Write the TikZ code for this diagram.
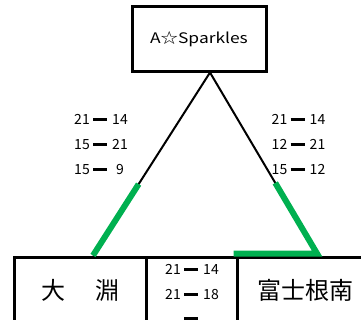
\documentclass[tikz,border=0pt]{standalone}
\usepackage{fontspec}
\setmainfont{Noto Sans CJK JP}
\newfontfamily\widefont[FakeStretch=1.2]{Noto Sans CJK JP}
\usetikzlibrary{calc, positioning}
\definecolor{wingreen}{RGB}{0,176,80}
\newcommand{\gamescore}[2]{\makebox[18pt][c]{#1}\hspace{2pt}\rule[3.6pt]{14pt}{3pt}\hspace{4pt}\makebox[18pt][c]{#2}\vphantom{0}}

\begin{document}
\begin{tikzpicture}[
    x=1pt, y=-1pt,
    font=\fontsize{14pt}{16pt}\selectfont,
    teambox/.style={rectangle, draw=black, line width=3pt, fill=white, inner sep=0pt},
    scorebox/.style={inner sep=0pt},
    leg/.style={line width=2pt, draw=black},
    winleg/.style={line width=6pt, draw=wingreen}
]
\useasboundingbox (0,0) rectangle (361,320);
\clip (0,0) rectangle (361,320);
\node[teambox, minimum width=134pt, minimum height=65pt, font=\widefont\fontsize{14.5pt}{18pt}\selectfont] (spk) at (199,39.5) {A☆Sparkles};
\node[teambox, minimum width=132pt, minimum height=66pt, font=\fontsize{24pt}{28pt}\selectfont] (obu) at (80,290) {大　\hspace{6pt}淵};
\node[teambox, minimum width=91pt, minimum height=66pt] (mid) at (191.5,290) {};
\node[teambox, minimum width=136pt, minimum height=66pt, font=\fontsize{24pt}{28pt}\selectfont] (fjn) at (305,290) {富士根南};
% triangle
\coordinate (apex) at ($(spk.south)+(11,-1)$);
\coordinate (lend) at ($(obu.north)+(13,0)$);
\coordinate (rend) at ($(fjn.north)+(12,-2)$);
\coordinate (rcorner) at ($(fjn.north west)+(-2,-2)$);
\draw[leg] (apex) -- (lend);
\draw[leg] (apex) -- (rend);
\draw[winleg] ($(apex)!0.61!(lend)$) -- (lend);
\draw[winleg] ($(apex)!0.61!(rend)$) -- (rend) -- (rcorner);
% scores
\node[scorebox] (l1) at (101,120) {\gamescore{21}{14}};
\node[scorebox] (l2) at (101,145) {\gamescore{15}{21}};
\node[scorebox] (l3) at (101,170) {\gamescore{15}{9}};
\node[scorebox] (r1) at (298.5,120) {\gamescore{21}{14}};
\node[scorebox] (r2) at (298.5,145) {\gamescore{12}{21}};
\node[scorebox] (r3) at (298.5,170) {\gamescore{15}{12}};
\node[scorebox] (m1) at (192,270) {\gamescore{21}{14}};
\node[scorebox] (m2) at (192,294.5) {\gamescore{21}{18}};
\node[scorebox] (m3) at (192,319) {\gamescore{}{}};
\end{tikzpicture}
\end{document}
